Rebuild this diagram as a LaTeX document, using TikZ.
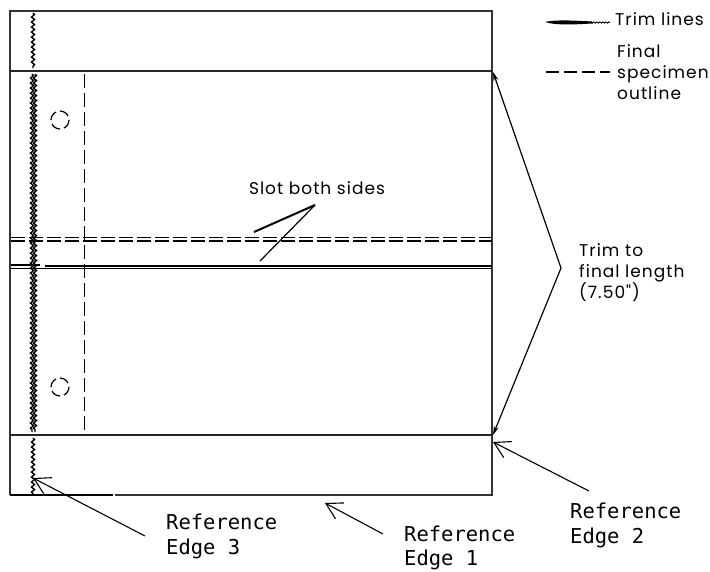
\documentclass[tikz,border=0pt]{standalone}
\usepackage{fontspec}
\newfontfamily\reffont{DejaVu Sans Mono}
\newfontfamily\notefont[LetterSpace=6]{Poppins}
\usetikzlibrary{arrows.meta,decorations.pathmorphing}
\tikzset{
    trimline/.style={line width=2pt, black!85},
    wavyline/.style={line width=1.4pt, decorate, decoration={snake, amplitude=1.5pt, segment length=5pt}},
    outline/.style={line width=0.9pt, dash pattern=on 14pt off 5pt},
    slotline/.style={line width=1.5pt, dash pattern=on 14pt off 4pt},
    reflabel/.style={font=\reffont\fontsize{20.5}{25}\selectfont, align=left, anchor=north west, inner sep=0pt},
    notelabel/.style={font=\notefont\fontsize{17}{21}\selectfont, align=left, anchor=west, inner sep=0pt},
    refarrow/.style={-{Straight Barb[length=15pt,width=20pt,angle=60:18pt]}, line width=1.1pt},
    leader/.style={-{Stealth[length=9pt,width=5pt]}, line width=1.2pt}
}
\begin{document}
\begin{tikzpicture}[x=1pt, y=-1pt]
    \useasboundingbox (0,0) rectangle (710,571);

    % Plate outline and trim lines
    \draw[line width=1.3pt, black!80] (10,495) -- (10,11) -- (492,11) -- (492,495) -- (115,495);
    \draw[line width=2pt] (10,495) -- (113,495);
    \draw[trimline] (10,71) -- (492,71);
    \draw[trimline] (10,435) -- (492,435);

    % Slot lines
    \draw[slotline] (11,237.5) -- (492,237.5);
    \draw[slotline] (11,241) -- (492,241);
    \draw[line width=1.2pt] (11,265) -- (40,265);
    \draw[line width=2.2pt] (45,266) -- (492,266);
    \draw[line width=1pt] (11,268.5) -- (492,268.5);

    % Reference edge 3, wavy cut
    \draw[wavyline] (33,13) -- (33,68);
    \draw[wavyline] (32,74) -- (32,432);
    \draw[wavyline] (35,74) -- (35,432);
    \draw[wavyline] (33,438) -- (33,495);

    % Final specimen outline
    \draw[outline] (84,74) -- (84,432);
    \draw[line width=1.2pt, dash pattern=on 10pt off 4pt] (60,120) circle (9);
    \draw[line width=1.2pt, dash pattern=on 10pt off 4pt] (60,387) circle (9);

    % Legend
    \fill (545,22) .. controls (555,19.5) and (575,20.5) .. (592,21.5) -- (592,23.5) .. controls (575,24.5) and (555,25.5) .. (545,22) -- cycle;
    \draw[line width=0.8pt, decorate, decoration={snake, amplitude=0.7pt, segment length=3pt}] (590,22.5) -- (610,22.5);
    \node[notelabel] (trimlines) at (615,19) {Trim lines};
    \draw[line width=1.1pt, dash pattern=on 13pt off 5pt] (546,72) -- (610,72);
    \node[notelabel, anchor=north west] (finaltext) at (617,44) {Final\\specimen\\outline};

    % Slot note
    \node[notelabel, anchor=south] (slotnote) at (317,195) {Slot both sides};
    \coordinate (slotupper) at (254,232);
    \coordinate (slotlower) at (260,261);
    \draw[line width=2pt] (slotnote.south) ++(-2,10) -- (slotupper);
    \draw[line width=1.2pt] (slotnote.south) ++(-2,10) -- (slotlower);

    % Trim note
    \node[notelabel, anchor=north west] (trimnote) at (579,243) {Trim to\\final length\\(7.50")};
    \coordinate (trimtip) at (561,268);
    \coordinate (trimtop) at (493,72);
    \coordinate (trimbottom) at (493,435);
    \draw[leader] (trimtip) -- (trimtop);
    \draw[leader] (trimtip) -- (trimbottom);

    % Reference edges
    \node[reflabel] (edgethree) at (166,514) {Reference\\Edge 3};
    \node[reflabel] (edgeone) at (404,526) {Reference\\[-1pt]Edge 1};
    \node[reflabel] (edgetwo) at (570,503) {Reference\\Edge 2};
    \coordinate (tipthree) at (33,478);
    \coordinate (tipone) at (325,503);
    \coordinate (tiptwo) at (493,442);
    \draw[refarrow] (145,536) -- (tipthree);
    \draw[refarrow] (383,534) -- (tipone);
    \draw[refarrow] (589,491) -- (tiptwo);
\end{tikzpicture}
\end{document}
